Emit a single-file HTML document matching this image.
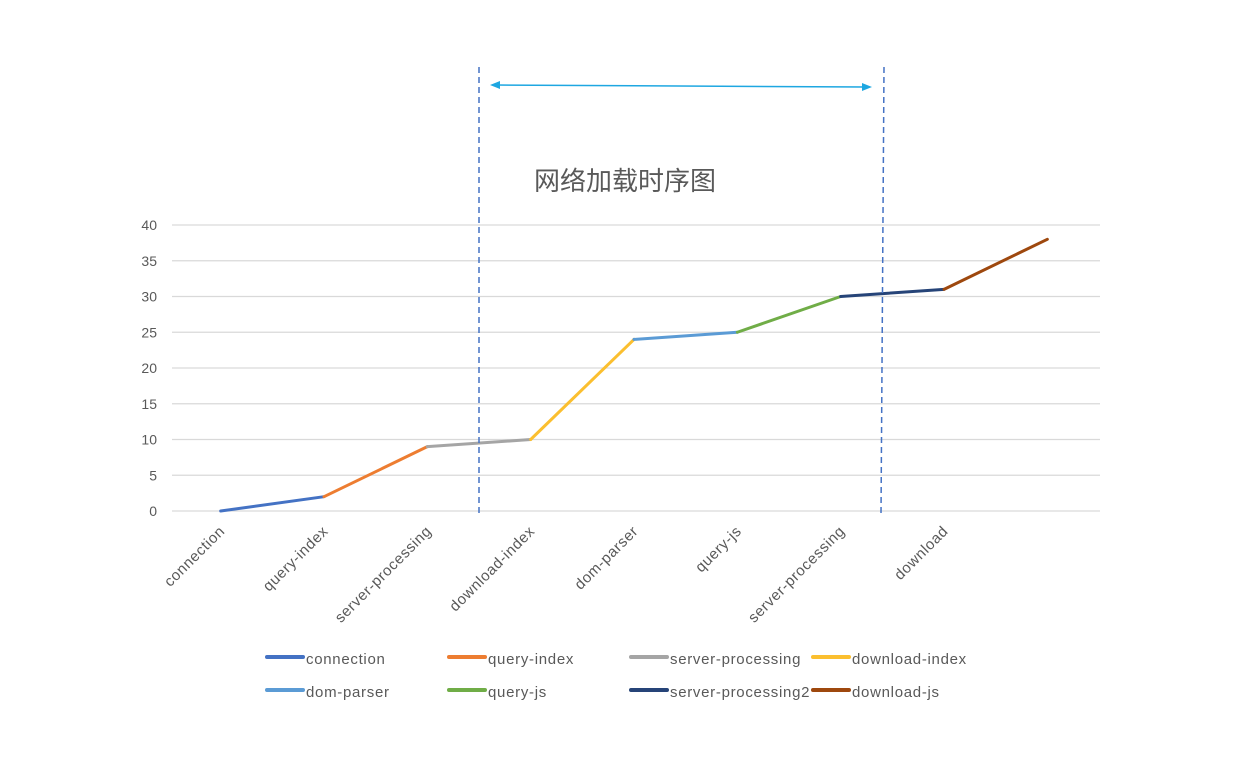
<!DOCTYPE html>
<html><head><meta charset="utf-8"><style>
body{margin:0;background:#fff;}
svg text{font-family:"Liberation Sans","Noto Sans CJK SC",sans-serif;fill:#595959;}
</style></head><body>
<svg id="chart" width="1250" height="764" viewBox="0 0 1250 764" xmlns="http://www.w3.org/2000/svg">
<rect width="1250" height="764" fill="#fff"/>
<g id="grid"></g>
<g id="yticks"></g>
<g id="xlabels"></g>
<g id="series"></g>
<line x1="479" y1="67" x2="479" y2="515" stroke="#4472c4" stroke-width="1.5" stroke-dasharray="6,4"/>
<line x1="884" y1="67" x2="881" y2="515" stroke="#4472c4" stroke-width="1.5" stroke-dasharray="6,4"/>
<g stroke="#1ea7e1" fill="#1ea7e1">
<line x1="496" y1="85" x2="866" y2="87" stroke-width="1.5"/>
<polygon points="490,85 500,81 500,89" stroke="none"/>
<polygon points="872,87 862,83 862,91" stroke="none"/>
</g>
<text x="625" y="190" font-size="26" text-anchor="middle">网络加载时序图</text>
<g id="legend"></g>
</svg>
<script>
const categories=["connection","query-index","server-processing","download-index","dom-parser","query-js","server-processing","download",""];
const values=[0,2,9,10,24,25,30,31,38];
const seriesNames=["connection","query-index","server-processing","download-index","dom-parser","query-js","server-processing2","download-js"];
const colors=["#4472c4","#ed7d31","#a5a5a5","#fbbf2f","#5b9bd5","#70ad47","#264478","#9e480e"];
const yTicks=[0,5,10,15,20,25,30,35,40];
const NS="http://www.w3.org/2000/svg";
const x0=172,x1=1100,y0=511,y1=225,yMax=40;
const step=(1102-x0)/9;
const xs=i=>x0+step*(i+0.5)-3;
const ys=v=>y0-(v/yMax)*(y0-y1);
function mk(tag,attrs,parent){const e=document.createElementNS(NS,tag);for(const k in attrs)e.setAttribute(k,attrs[k]);parent.appendChild(e);return e;}
const grid=document.getElementById('grid'),yt=document.getElementById('yticks');
yTicks.forEach(t=>{
 const l=mk('line',{x1:x0,x2:x1,y1:ys(t),y2:ys(t),stroke:'#d9d9d9','stroke-width':1.3},grid);
 
 
 const tx=mk('text',{x:157,y:ys(t)+5,'font-size':14,'text-anchor':'end'},yt);
 tx.textContent=t;
 
 
});
const xl=document.getElementById('xlabels');
categories.forEach((c,i)=>{
 if(!c)return;
 const x=xs(i)+5,y=532;
 const t=mk('text',{x:x,y:y,'font-size':15,'letter-spacing':0.6,'text-anchor':'end',transform:`rotate(-45 ${x} ${y})`},xl);
 t.textContent=c;
 
 
});
const sg=document.getElementById('series');
for(let i=0;i<values.length-1;i++){
 const l=mk('line',{x1:xs(i),y1:ys(values[i]),x2:xs(i+1),y2:ys(values[i+1]),stroke:colors[i],'stroke-width':3,'stroke-linecap':'round'},sg);
 
 
}
const lg=document.getElementById('legend');
seriesNames.forEach((n,i)=>{
 const cx=267+(i%4)*182, cy=657+Math.floor(i/4)*33;
 const g=mk('g',{},lg);
 
 
 mk('line',{x1:cx,x2:cx+36,y1:cy,y2:cy,stroke:colors[i],'stroke-width':4,'stroke-linecap':'round'},g);
 const t=mk('text',{x:cx+39,y:cy+7,'font-size':15,'letter-spacing':0.7},g);
 t.textContent=n;
});
</script>
</body></html>
